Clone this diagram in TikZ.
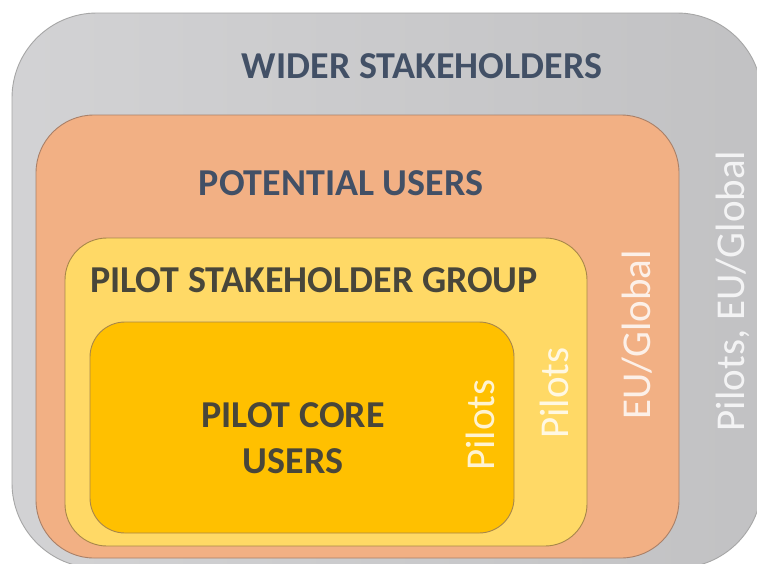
\documentclass[tikz,border=0pt]{standalone}
\usepackage{fontspec}
\setmainfont{Carlito}
\definecolor{grayfill}{HTML}{D0D0D2}
\definecolor{grayedge}{HTML}{A6A6A6}
\definecolor{orangefill}{HTML}{F2B084}
\definecolor{orangeedge}{HTML}{A98068}
\definecolor{lightyellow}{HTML}{FFD966}
\definecolor{coreyellow}{HTML}{FFC000}
\definecolor{yellowedge}{HTML}{A8874A}
\definecolor{slate}{HTML}{425066}
\definecolor{darkolive}{HTML}{48463A}
\tikzset{
  ring/.style={line width=0.9pt},
  title/.style={font=\bfseries\fontsize{38}{44}\selectfont, text=slate, inner sep=0pt, anchor=base},
  sidelabel/.style={font=\fontsize{41}{46}\selectfont, text=white, text opacity=0.82, rotate=90, inner sep=0pt}
}
\begin{document}
\begin{tikzpicture}[x=1pt,y=-1pt]
\useasboundingbox (0,0) rectangle (757,563);
\fill[white] (0,0) rectangle (757,563);
\begin{scope}
\clip (0,0) rectangle (757,563);
\draw[ring, draw=grayedge, left color=grayfill!95!white, right color=grayfill!93!black, rounded corners=85pt] (12,13) rectangle (762,568);
\draw[ring, draw=orangeedge, fill=orangefill, rounded corners=58pt] (36,115) rectangle (679,558);
\draw[ring, draw=yellowedge, fill=lightyellow, rounded corners=42pt] (65,238) rectangle (587,546);
\draw[ring, draw=yellowedge, fill=coreyellow, rounded corners=35pt] (90,322) rectangle (514,533);
\end{scope}
\node[title] (wider) at (422,78) {WIDER STAKEHOLDERS};
\node[title] (potential) at (341,195) {POTENTIAL USERS};
\node[title, text=darkolive] (group) at (314,292) {PILOT STAKEHOLDER GROUP};
\node[title, text=darkolive] (core) at (293,427) {PILOT CORE};
\node[title, text=darkolive] (coreb) at (293,473) {USERS};
\node[sidelabel] (pcore) at (480,425) {Pilots};
\node[sidelabel] (pgroup) at (554,393) {Pilots};
\node[sidelabel] (eu) at (637,335) {EU/Global};
\node[sidelabel] (all) at (733,291) {Pilots, EU/Global};
\end{tikzpicture}
\end{document}
